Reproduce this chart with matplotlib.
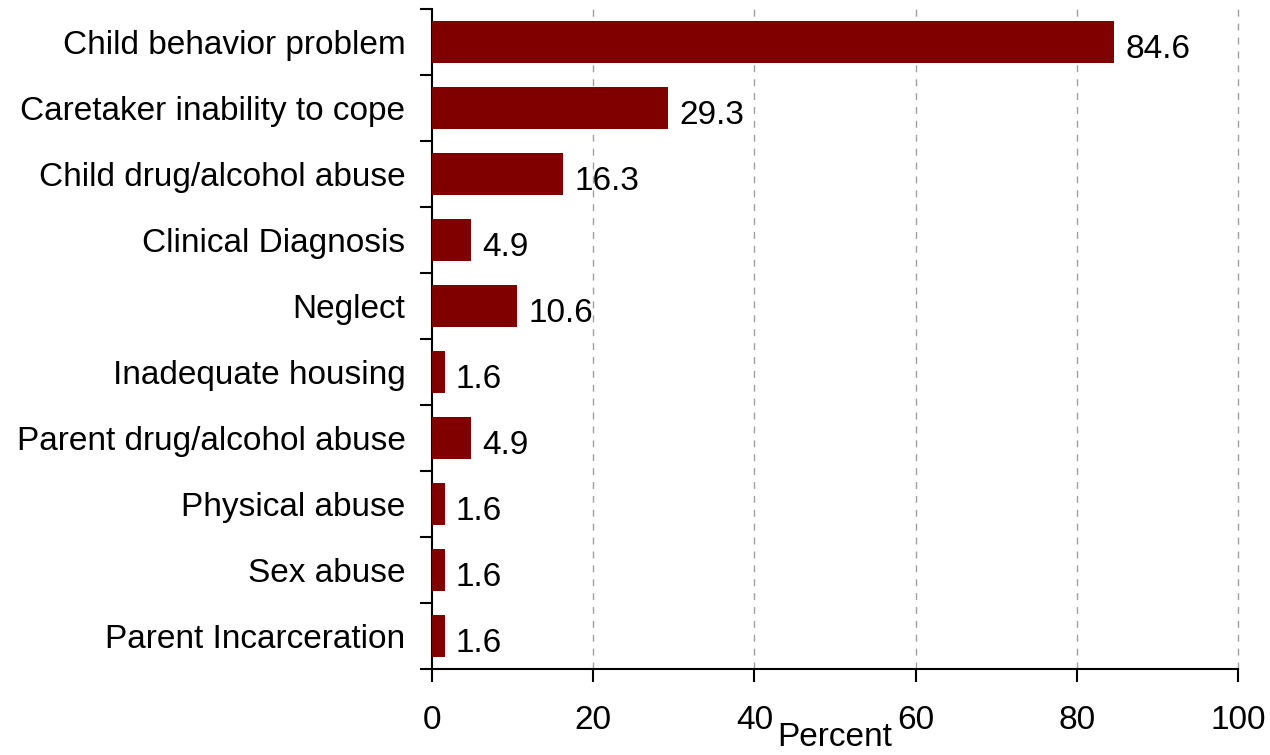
import numpy as np
import matplotlib
matplotlib.use('Agg')
import matplotlib.pyplot as plt
from matplotlib.ticker import FixedLocator

plt.rcParams['font.family'] = ['Liberation Sans', 'DejaVu Sans']

categories = ['Child behavior problem', 'Caretaker inability to cope',
              'Child drug/alcohol abuse', 'Clinical Diagnosis', 'Neglect',
              'Inadequate housing', 'Parent drug/alcohol abuse',
              'Physical abuse', 'Sex abuse', 'Parent Incarceration']
values = [84.6, 29.3, 16.3, 4.9, 10.6, 1.6, 4.9, 1.6, 1.6, 1.6]
x_ticks = [0, 20, 40, 60, 80, 100]

FS = 24
bar_color = '#800000'

fig = plt.figure(figsize=(12.7, 7.55), dpi=100)
ax = fig.add_axes([0.340, 0.1139, 0.635, 0.874])

pos = np.arange(len(categories))
ax.barh(pos, values, height=0.64, color=bar_color, zorder=3)

for p, v in zip(pos, values):
    ax.text(v + 1.4, p + 0.06, f'{v:.1f}', va='center_baseline', ha='left',
            fontsize=FS, zorder=4)

ax.set_xlim(0, 100)
ax.set_ylim(len(categories) - 0.5, -0.5)

# dashed vertical grid
for t in x_ticks[1:]:
    ax.axvline(t, color='#a0a0a0', linestyle=(0, (5, 5)), linewidth=1.0,
               zorder=1, clip_on=False)

ax.set_xticks(x_ticks)
ax.set_xticklabels([str(t) for t in x_ticks], fontsize=FS)
ax.tick_params(axis='x', direction='out', length=9, width=1.5, pad=17)

# y ticks at category boundaries, labels at centres
ax.yaxis.set_major_locator(FixedLocator(np.arange(-0.5, len(categories), 1.0)))
ax.yaxis.set_major_formatter(plt.NullFormatter())
ax.yaxis.set_minor_locator(FixedLocator(pos))
ax.set_yticklabels(categories, minor=True, fontsize=FS)
ax.tick_params(axis='y', which='major', direction='out', length=9, width=1.5)
ax.tick_params(axis='y', which='minor', length=0, pad=19)

for s in ['top', 'right']:
    ax.spines[s].set_visible(False)
for s in ['left', 'bottom']:
    ax.spines[s].set_linewidth(1.5)

ax.set_xlabel('Percent', fontsize=FS)
ax.xaxis.set_label_coords(0.5, -0.080)
ax.xaxis.label.set_va('top')

fig.savefig('out.png', dpi=100)
